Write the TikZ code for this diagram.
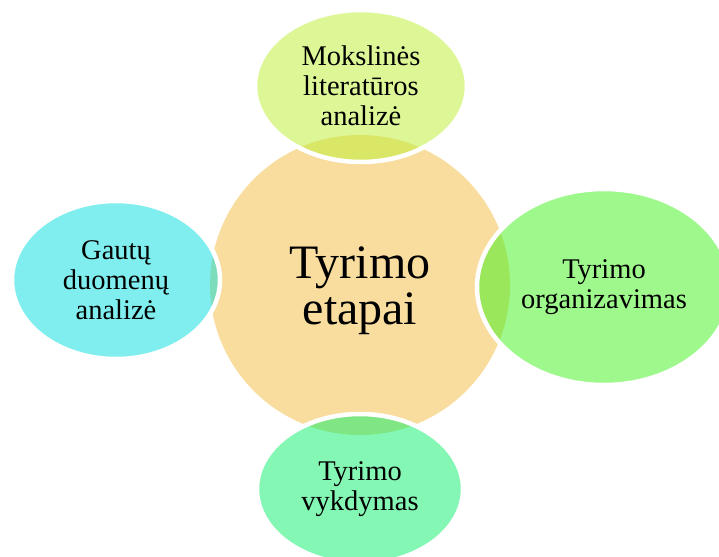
\documentclass[tikz,border=0pt]{standalone}
\usepackage{fontspec}
\setmainfont{Liberation Serif}
\usetikzlibrary{shapes.geometric}
\definecolor{corecol}{RGB}{249,221,158}
\definecolor{topcol}{RGB}{187,239,47}
\definecolor{rightcol}{RGB}{61,241,25}
\definecolor{leftcol}{RGB}{1,221,221}
\definecolor{botcol}{RGB}{9,239,105}
\tikzset{
  core/.style={circle, fill=corecol, minimum size=300pt, inner sep=0pt},
  coretext/.style={align=center, inner sep=0pt, font=\fontsize{48}{46}\selectfont},
  sat/.style={ellipse, draw=white, line width=4.5pt, fill opacity=0.5,
    draw opacity=1, text opacity=1, inner sep=0pt, align=center,
    font=\fontsize{28.5}{30}\selectfont},
}
\begin{document}
\begin{tikzpicture}[x=1pt,y=-1pt]
\useasboundingbox (0,0) rectangle (719,556);
\clip (0,0) rectangle (719,556);
\node[core] (nCore) at (360,285) {};
\node[coretext] (nCoreText) at (360,291) {Tyrimo\\etapai};
\node[sat, fill=topcol, minimum width=212pt, minimum height=152pt] (nTop) at (361,86) {Mokslinės\\literatūros\\analizė};
\node[sat, fill=rightcol, minimum width=254pt, minimum height=196pt] (nRight) at (604,287) {Tyrimo\\organizavimas};
\node[sat, fill=botcol, minimum width=206pt, minimum height=150pt] (nBot) at (360,489) {Tyrimo\\vykdymas};
\node[sat, fill=leftcol, minimum width=208pt, minimum height=158pt] (nLeft) at (116,280) {Gautų\\duomenų\\analizė};
\end{tikzpicture}
\end{document}
